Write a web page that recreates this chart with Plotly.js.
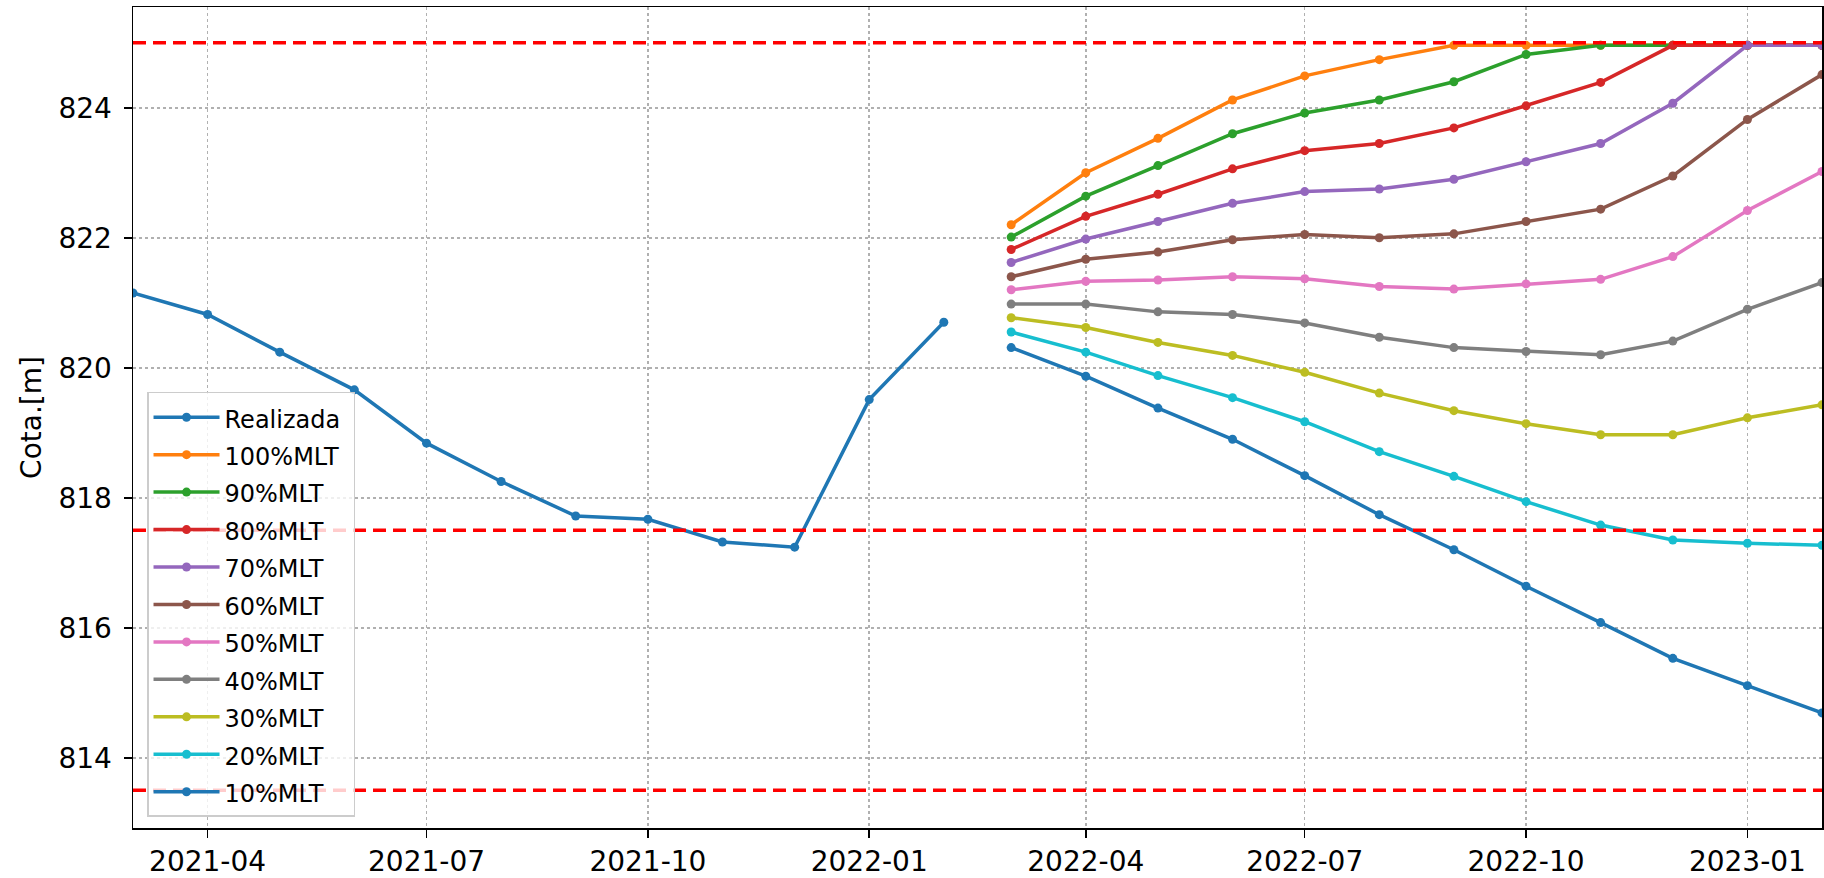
<!DOCTYPE html>
<html>
<head>
<meta charset="utf-8">
<script src="https://cdn.plot.ly/plotly-3.0.1.min.js"></script>
<style>
  html, body { margin: 0; padding: 0; background: #ffffff; }
  #chart { width: 1824px; height: 878px; }
</style>
</head>
<body>
<div id="chart"></div>
<script>
// ---- data ----
const realDates = ['2021-03-01','2021-04-01','2021-05-01','2021-06-01','2021-07-01','2021-08-01',
                   '2021-09-01','2021-10-01','2021-11-01','2021-12-01','2022-01-01','2022-02-01'];
const realLevels = [821.15, 820.82, 820.24, 819.66, 818.84, 818.25, 817.72, 817.67, 817.32, 817.24, 819.51, 820.70];

const forecastDates = ['2022-03-01','2022-04-01','2022-05-01','2022-06-01','2022-07-01','2022-08-01',
                       '2022-09-01','2022-10-01','2022-11-01','2022-12-01','2023-01-01','2023-02-01'];
const mlt100 = [822.20, 823.00, 823.53, 824.12, 824.49, 824.74, 824.96, 824.96, 824.96, 824.96, 824.96, 824.96];
const mlt90  = [822.01, 822.64, 823.11, 823.60, 823.92, 824.12, 824.40, 824.82, 824.96, 824.96, 824.96, 824.96];
const mlt80  = [821.82, 822.33, 822.67, 823.06, 823.34, 823.45, 823.69, 824.03, 824.39, 824.96, 824.96, 824.96];
const mlt70  = [821.62, 821.98, 822.25, 822.53, 822.71, 822.75, 822.90, 823.17, 823.45, 824.07, 824.96, 824.96];
const mlt60  = [821.40, 821.67, 821.78, 821.97, 822.05, 822.00, 822.06, 822.25, 822.44, 822.95, 823.82, 824.51];
const mlt50  = [821.20, 821.33, 821.35, 821.40, 821.37, 821.25, 821.21, 821.29, 821.36, 821.71, 822.42, 823.02];
const mlt40  = [820.98, 820.98, 820.86, 820.82, 820.69, 820.47, 820.31, 820.25, 820.20, 820.41, 820.90, 821.31];
const mlt30  = [820.77, 820.62, 820.39, 820.19, 819.93, 819.61, 819.34, 819.14, 818.97, 818.97, 819.23, 819.43];
const mlt20  = [820.55, 820.24, 819.88, 819.54, 819.17, 818.71, 818.33, 817.94, 817.58, 817.35, 817.30, 817.27];
const mlt10  = [820.31, 819.87, 819.38, 818.90, 818.34, 817.74, 817.20, 816.64, 816.08, 815.53, 815.11, 814.69];

const seriesNames = ['Realizada','100%MLT','90%MLT','80%MLT','70%MLT','60%MLT','50%MLT','40%MLT','30%MLT','20%MLT','10%MLT'];
const limits = [825, 817.5, 813.5];

// ---- styling ----
const colors = ['#1f77b4','#ff7f0e','#2ca02c','#d62728','#9467bd','#8c564b','#e377c2','#7f7f7f','#bcbd22','#17becf','#1f77b4'];
const forecasts = [mlt100, mlt90, mlt80, mlt70, mlt60, mlt50, mlt40, mlt30, mlt20, mlt10];

function label(t) { return '<span style="font-size:24px">' + t + '\u00a0</span>'; }

const traces = [];
traces.push({
  x: realDates, y: realLevels, name: label(seriesNames[0]),
  type: 'scatter', mode: 'lines+markers',
  line: {color: colors[0], width: 3.5}, marker: {color: colors[0], size: 9}
});
forecasts.forEach((vals, i) => {
  traces.push({
    x: forecastDates, y: vals, name: label(seriesNames[i + 1]),
    type: 'scatter', mode: 'lines+markers',
    line: {color: colors[i + 1], width: 3.5}, marker: {color: colors[i + 1], size: 9}
  });
});

const shapes = limits.map(v => ({
  type: 'line', xref: 'paper', x0: 0, x1: 1, yref: 'y', y0: v, y1: v,
  line: {color: '#ff0000', width: 3.5, dash: '13px,7px'}, layer: 'above'
}));

const font = {family: 'DejaVu Sans, Liberation Sans, sans-serif', color: '#000000'};

const layout = {
  width: 1824, height: 878,
  margin: {l: 133, r: 2, t: 7, b: 50, pad: 0},
  paper_bgcolor: '#ffffff', plot_bgcolor: '#ffffff',
  font: Object.assign({size: 28}, font),
  showlegend: true,
  legend: {
    x: 0.0083, y: 0.0134, xanchor: 'left', yanchor: 'bottom',
    bgcolor: 'rgba(255,255,255,0.8)', bordercolor: '#cccccc', borderwidth: 1.5,
    font: Object.assign({size: 26.5}, font),
    itemwidth: 66, tracegroupgap: 0
  },
  xaxis: {
    type: 'date',
    range: ['2021-03-01', '2023-02-01'],
    tick0: '2021-01-01', dtick: 'M3', tickformat: '%Y-%m',
    ticks: 'outside', ticklen: 8, tickwidth: 1.5, tickcolor: '#000',
    showline: true, mirror: true, linecolor: '#000', linewidth: 1.5,
    showgrid: true, gridcolor: '#b0b0b0', gridwidth: 1.5, griddash: 'dot',
    zeroline: false,
    tickfont: Object.assign({size: 28}, font)
  },
  yaxis: {
    range: [812.92, 825.55],
    tick0: 814, dtick: 2,
    ticks: 'outside', ticklen: 8, tickwidth: 1.5, tickcolor: '#000',
    ticklabelstandoff: 6,
    showline: true, mirror: true, linecolor: '#000', linewidth: 1.5,
    showgrid: true, gridcolor: '#b0b0b0', gridwidth: 1.5, griddash: 'dot',
    zeroline: false,
    tickfont: Object.assign({size: 28}, font),
    title: {text: 'Cota.[m]', font: Object.assign({size: 28}, font), standoff: 8}
  },
  shapes: shapes
};

Plotly.newPlot('chart', traces, layout, {staticPlot: true, displayModeBar: false});
</script>
</body>
</html>
